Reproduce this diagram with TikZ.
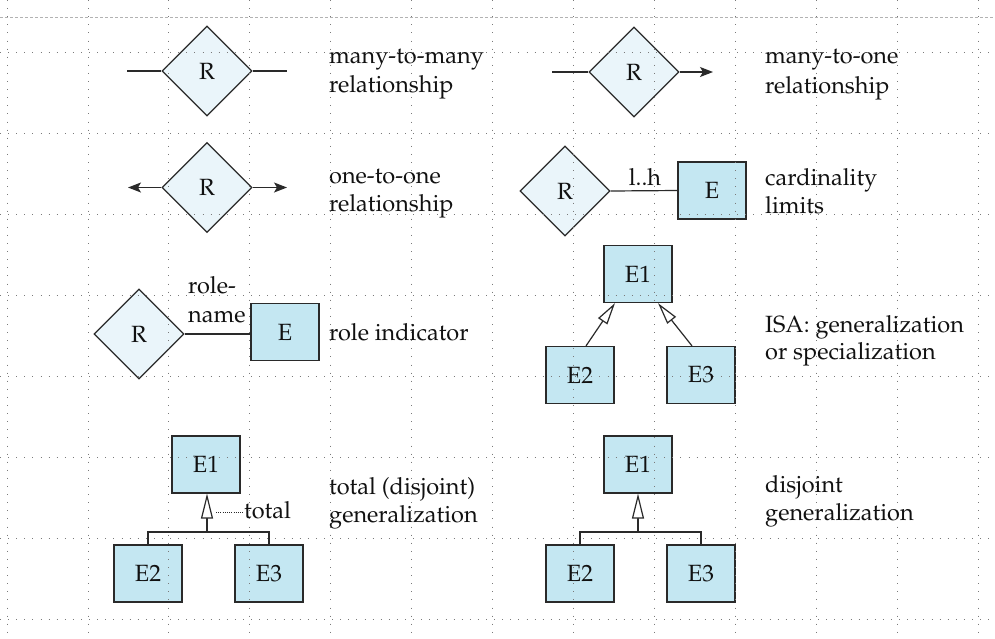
\documentclass[tikz,border=0pt]{standalone}
\usepackage[T1]{fontenc}
\usepackage{mathpazo}
\usetikzlibrary{shapes.geometric,arrows.meta}
\definecolor{relfill}{HTML}{EAF5FA}
\definecolor{entfill}{HTML}{C4E7F2}
\definecolor{edgec}{HTML}{2A2A2A}
\definecolor{gridc}{HTML}{7A7A7A}
\definecolor{txtc}{HTML}{111111}
\begin{document}
\begin{tikzpicture}[x=1pt,y=-1pt,
  rel/.style={diamond, draw=edgec, fill=relfill, line width=1.2pt, minimum width=90pt, minimum height=90pt, inner sep=0pt, text=txtc, font=\fontsize{23.5}{27}\selectfont},
  ent/.style={rectangle, draw=edgec, fill=entfill, line width=1.2pt, minimum width=68pt, minimum height=57pt, inner sep=0pt, text=txtc, font=\fontsize{23.5}{27}\selectfont},
  lbl/.style={anchor=base west, inner sep=0pt, text=txtc, font=\fontsize{23.5}{27}\selectfont},
  conn/.style={draw=edgec, line width=1.2pt},
  onetip/.style={conn, -{Stealth[length=13pt,width=10pt,inset=3pt]}},
  isatip/.style={conn, -{Triangle[open,length=22pt,width=11pt,fill=white]}},
  gentip/.style={conn, -{Triangle[open,length=25pt,width=12pt,fill=white]}},
  gridline/.style={draw=gridc, line width=0.9pt, dash pattern=on 0.9pt off 7.2pt},
  dotline/.style={draw=edgec, line width=0.7pt, dash pattern=on 0.7pt off 1.5pt}
]
\useasboundingbox (0,0) rectangle (995,638);
\fill[white] (0,0) rectangle (995,638);

% many-to-many
\node[rel] (r1) at (207,71) {R};
\coordinate (r1l) at (127,71);
\coordinate (r1r) at (287,71);
\draw[conn] (r1l) -- (r1.west);
\draw[conn] (r1.east) -- (r1r);
\node[lbl] (t1a) at (329,63) {many-to-many};
\node[lbl] (t1b) at (329,92) {relationship};

% one-to-one
\node[rel] (r2) at (207,187.5) {R};
\coordinate (r2l) at (128,187.5);
\coordinate (r2r) at (287,187.5);
\draw[onetip] (r2.west) -- (r2l);
\draw[onetip] (r2.east) -- (r2r);
\node[lbl] (t2a) at (329,183) {one-to-one};
\node[lbl] (t2b) at (329,211) {relationship};

% many-to-one
\node[rel] (r3) at (634,72) {R};
\coordinate (r3l) at (552,72);
\coordinate (r3r) at (713,72);
\draw[conn] (r3l) -- (r3.west);
\draw[onetip] (r3.east) -- (r3r);
\node[lbl] (t3a) at (765,63) {many-to-one};
\node[lbl] (t3b) at (765,93) {relationship};

% cardinality limits
\node[rel] (r4) at (565,191) {R};
\node[ent] (e4) at (712,190.5) {E};
\draw[conn] (r4.east) -- (e4.west);
\node[lbl, anchor=base] (card) at (645,185) {l..h};
\node[lbl] (t4a) at (765,185) {cardinality};
\node[lbl] (t4b) at (765,213) {limits};

% role indicator
\node[rel] (r5) at (139,334) {R};
\node[ent] (e5) at (285,332) {E};
\draw[conn] (r5.east) -- (e5.west |- r5.east);
\node[lbl] (rn1) at (188,293) {role-};
\node[lbl] (rn2) at (188,322) {name};
\node[lbl] (t5) at (329,340) {role indicator};

% ISA
\node[ent] (i1) at (638,274) {E1};
\node[ent] (i2) at (580,375) {E2};
\node[ent] (i3) at (701,375) {E3};
\draw[isatip] ([xshift=6pt]i2.north) -- ([xshift=-23pt]i1.south);
\draw[isatip] ([xshift=-9pt]i3.north) -- ([xshift=20pt]i1.south);
\node[lbl] (t6a) at (765,332) {ISA: generalization};
\node[lbl] (t6b) at (765,359) {or specialization};

% total (disjoint) generalization
\node[ent] (g1) at (206,464.5) {E1};
\node[ent] (g2) at (148,573.5) {E2};
\node[ent] (g3) at (269,573.5) {E3};
\coordinate (j1) at (207,532);
\draw[gentip] (j1) -- (g1.south -| j1);
\draw[conn] (g2.north) |- (j1) -| (g3.north);
\coordinate (tt) at (216,512);
\node[lbl] (tot) at (244,518) {total};
\draw[dotline] (tt) -- (tot.west |- tt);
\node[lbl] (t7a) at (329,494) {total (disjoint)};
\node[lbl] (t7b) at (329,522) {generalization};

% disjoint generalization
\node[ent] (d1) at (638,464.5) {E1};
\node[ent] (d2) at (580,573.5) {E2};
\node[ent] (d3) at (701,573.5) {E3};
\coordinate (j2) at (638,532);
\draw[gentip] (j2) -- (d1.south);
\draw[conn] (d2.north) |- (j2) -| (d3.north);
\node[lbl] (t8a) at (765,492) {disjoint};
\node[lbl] (t8b) at (765,520) {generalization};

% background grid (drawn over)
\foreach \i in {0,...,12} {
  \draw[gridline] ({7+80.95*\i},0) -- ({7+80.95*\i},638);
}
\foreach \j in {0,...,7} {
  \draw[gridline] (0,{52+81*\j}) -- (995,{52+81*\j});
}
\draw[gray!60, line width=0.8pt, dash pattern=on 3pt off 2pt] (0,17) -- (995,17);
\end{tikzpicture}
\end{document}
